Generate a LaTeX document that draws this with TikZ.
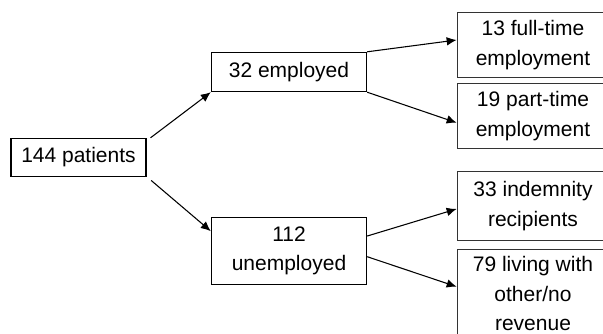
\documentclass[tikz,border=0pt]{standalone}
\usepackage{fontspec}
\setmainfont{Liberation Sans}
\usetikzlibrary{arrows.meta}

\begin{document}
\begin{tikzpicture}[x=0.75pt,y=0.75pt,yscale=-1,xscale=1,
    box/.style={draw, line width=0.8pt, inner sep=0pt, align=center,
        font=\fontsize{15.75}{22.2}\selectfont},
    outbox/.style={box, draw=black!80, line width=1pt, minimum width=113.5pt},
    arr/.style={-{Latex[length=7.5pt,width=6.5pt]}, line width=0.8pt}]
    \useasboundingbox (0,0) rectangle (603,333);
    \clip (0,0) rectangle (603,333);

    % first level
    \node [box, minimum width=101.25pt, minimum height=28.6pt] (patients) at (78.5,157.4) {144 patients};

    % second level
    \node [box, minimum width=116.5pt, minimum height=29.5pt] (employed) at (289,72) {32 employed};
    \node [box, minimum width=116.5pt, minimum height=50.5pt] (unemployed) at (289,250.7) {112\\unemployed};

    % third level
    \node [outbox, minimum height=48.75pt] (fulltime) at (533,44.8) {13 full-time\\employment};
    \node [outbox, minimum height=48.75pt] (parttime) at (533,115.8) {19 part-time\\employment};
    \node [outbox, minimum height=51.5pt] (indemnity) at (533,206) {33 indemnity\\recipients};
    \node [outbox, minimum height=66pt] (living) at (533,293.5) {79 living with\\other/no\\revenue};

    % arrows
    \draw [arr] ([xshift=3pt]patients.north east) -- (employed.south west);
    \draw [arr] ([xshift=3.5pt,yshift=2.6pt]patients.south east) -- ([yshift=11pt]unemployed.north west);
    \draw [arr] (employed.north east) -- ([yshift=-3.6pt]fulltime.west);
    \draw [arr] (employed.south east) -- ([yshift=5.2pt]parttime.west);
    \draw [arr] ([yshift=-11pt]unemployed.east) -- ([yshift=2.2pt]indemnity.west);
    \draw [arr] ([yshift=4.5pt]unemployed.east) -- ([yshift=28.4pt]living.north west);

\end{tikzpicture}
\end{document}
